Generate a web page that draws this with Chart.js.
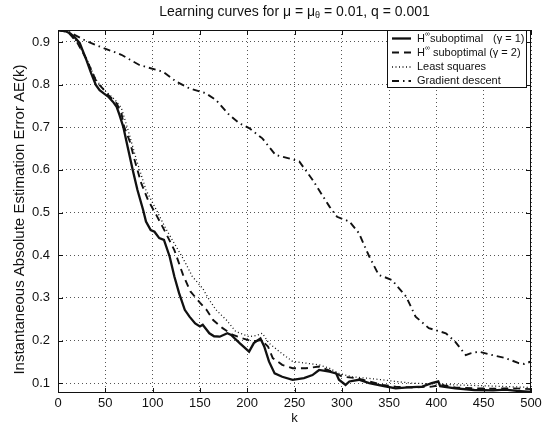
<!DOCTYPE html>
<html><head><meta charset="utf-8">
<script src="https://cdn.jsdelivr.net/npm/chart.js@4/dist/chart.umd.min.js"></script>
<style>html,body{margin:0;padding:0;background:#fff}#wrap{width:551px;height:427px}</style>
</head><body><div id="wrap"><canvas id="c" width="551" height="427"></canvas></div>
<script>
const xTicks = [0, 50, 100, 150, 200, 250, 300, 350, 400, 450, 500];
const yTicks = [0.1, 0.2, 0.3, 0.4, 0.5, 0.6, 0.7, 0.8, 0.9];

const kH1 = [0, 8, 13, 18, 23, 30, 35, 40, 44, 48, 53, 58, 62, 65, 69, 74, 79, 84, 90, 93, 98, 102, 107, 112, 118, 123, 128, 134, 139, 145, 150, 153, 160, 165, 171, 179, 183, 192, 202, 207, 214, 218, 223, 229, 237, 248, 260, 269, 276, 287, 294, 297, 304, 308, 318, 329, 343, 357, 370, 385, 395, 402, 404, 420, 440, 460, 473, 485, 497, 500];
const aeH1 = [0.928, 0.925, 0.92, 0.91, 0.897, 0.858, 0.827, 0.799, 0.787, 0.780, 0.772, 0.760, 0.748, 0.729, 0.701, 0.650, 0.600, 0.553, 0.506, 0.479, 0.459, 0.455, 0.440, 0.436, 0.397, 0.350, 0.311, 0.272, 0.256, 0.240, 0.233, 0.237, 0.217, 0.210, 0.209, 0.217, 0.213, 0.194, 0.174, 0.194, 0.205, 0.186, 0.151, 0.123, 0.115, 0.108, 0.112, 0.119, 0.131, 0.127, 0.123, 0.108, 0.096, 0.104, 0.108, 0.100, 0.094, 0.088, 0.090, 0.092, 0.100, 0.104, 0.093, 0.088, 0.084, 0.083, 0.085, 0.082, 0.080, 0.080];

const kH2 = [0, 10, 20, 30, 40, 44, 53, 62, 67, 70, 76, 81, 88, 95, 104, 114, 123, 132, 140, 150, 157, 164, 174, 185, 195, 206, 215, 222, 227, 237, 248, 262, 276, 290, 301, 315, 329, 343, 357, 375, 395, 405, 420, 440, 460, 480, 500];
const aeH2 = [0.928, 0.924, 0.900, 0.860, 0.810, 0.799, 0.776, 0.756, 0.733, 0.701, 0.666, 0.623, 0.569, 0.530, 0.494, 0.452, 0.412, 0.355, 0.315, 0.289, 0.272, 0.248, 0.229, 0.213, 0.205, 0.198, 0.201, 0.186, 0.159, 0.143, 0.135, 0.135, 0.139, 0.127, 0.115, 0.112, 0.104, 0.096, 0.092, 0.090, 0.092, 0.096, 0.090, 0.088, 0.087, 0.088, 0.086];

const kLS = [0, 10, 20, 30, 40, 50, 60, 67, 74, 83, 93, 104, 114, 125, 134, 142, 153, 160, 167, 178, 188, 202, 210, 216, 223, 234, 248, 262, 276, 287, 297, 311, 325, 343, 357, 375, 400, 420, 450, 475, 500];
const aeLS = [0.928, 0.924, 0.900, 0.862, 0.812, 0.785, 0.765, 0.745, 0.694, 0.623, 0.553, 0.506, 0.462, 0.420, 0.385, 0.350, 0.322, 0.295, 0.272, 0.248, 0.221, 0.209, 0.212, 0.217, 0.194, 0.174, 0.151, 0.147, 0.143, 0.135, 0.123, 0.115, 0.112, 0.108, 0.104, 0.100, 0.098, 0.096, 0.094, 0.092, 0.090];

const kGD = [0, 10, 18, 30, 49, 67, 86, 111, 125, 139, 156, 167, 181, 192, 202, 216, 230, 244, 255, 269, 287, 295, 308, 318, 329, 339, 353, 368, 378, 392, 410, 420, 431, 436, 445, 459, 473, 487, 493, 500];
const aeGD = [0.928, 0.925, 0.916, 0.902, 0.885, 0.870, 0.846, 0.830, 0.807, 0.791, 0.780, 0.764, 0.729, 0.709, 0.698, 0.674, 0.635, 0.627, 0.620, 0.577, 0.514, 0.490, 0.479, 0.452, 0.397, 0.354, 0.342, 0.303, 0.256, 0.229, 0.217, 0.197, 0.166, 0.170, 0.174, 0.166, 0.159, 0.147, 0.145, 0.151];

const titleText = ['Learning curves for \u03bc = \u03bc', '\u03b8', ' = 0.01, q = 0.001'];
const xLabel = 'k';
const yLabel = 'Instantaneous Absolute Estimation Error AE(k)';
const legendRows = [
  {pre: 'H', sup: '\u221e', mid: 'suboptimal', tail: '(\u03b3 = 1)'},
  {pre: 'H', sup: '\u221e', mid: 'suboptimal', tail: '(\u03b3 = 2)'},
  {pre: 'Least squares'},
  {pre: 'Gradient descent'}
];

const FONT = "'Liberation Sans', Arial, Helvetica, sans-serif";
const INK = '#111';
const styles = [
  {w: 2.3, dash: []},
  {w: 1.9, dash: [7, 5]},
  {w: 1.3, dash: [1, 2.5]},
  {w: 1.9, dash: [7, 4, 1.5, 4]}
];
const pts = (k, v) => k.map((x, i) => ({x: x, y: v[i]}));
const series = [pts(kH1, aeH1), pts(kH2, aeH2), pts(kLS, aeLS), pts(kGD, aeGD)];

const deco = {
  id: 'deco',
  afterDraw(chart) {
    const ctx = chart.ctx, a = chart.chartArea;
    const xs = chart.scales.x, ys = chart.scales.y;
    ctx.save();
    ctx.strokeStyle = INK; ctx.lineWidth = 1; ctx.setLineDash([]);
    ctx.strokeRect(a.left + 0.5, a.top + 0.5, a.right - a.left - 1, a.bottom - a.top - 1);
    ctx.beginPath();
    xTicks.forEach(v => { const p = Math.round(xs.getPixelForValue(v)) + 0.5;
      ctx.moveTo(p, a.bottom); ctx.lineTo(p, a.bottom - 5);
      ctx.moveTo(p, a.top); ctx.lineTo(p, a.top + 5); });
    yTicks.forEach(v => { const p = Math.round(ys.getPixelForValue(v)) + 0.5;
      ctx.moveTo(a.left, p); ctx.lineTo(a.left + 5, p);
      ctx.moveTo(a.right, p); ctx.lineTo(a.right - 5, p); });
    ctx.stroke();
    ctx.fillStyle = INK; ctx.textBaseline = 'middle';
    ctx.font = '14px ' + FONT;
    const w0 = ctx.measureText(titleText[0]).width;
    ctx.font = '9px ' + FONT;
    const w1 = ctx.measureText(titleText[1]).width;
    ctx.font = '14px ' + FONT;
    const w2 = ctx.measureText(titleText[2]).width;
    let tx = (a.left + a.right) / 2 - (w0 + w1 + w2) / 2;
    ctx.textAlign = 'left';
    ctx.fillText(titleText[0], tx, 12);
    ctx.font = '9px ' + FONT; ctx.fillText(titleText[1], tx + w0, 16);
    ctx.font = '14px ' + FONT; ctx.fillText(titleText[2], tx + w0 + w1, 12);
    ctx.font = '13px ' + FONT;
    ctx.textAlign = 'center';
    ctx.fillText(xLabel, (a.left + a.right) / 2, 418);
    ctx.save();
    ctx.font = '15px ' + FONT;
    ctx.translate(20, (a.top + a.bottom) / 2 + 8);
    ctx.rotate(-Math.PI / 2);
    ctx.fillText(yLabel, 0, 0);
    ctx.restore();
    const lx = 387, ly = 30, lw = 139, lh = 57;
    ctx.fillStyle = '#fff';
    ctx.fillRect(lx, ly, lw, lh);
    ctx.strokeStyle = INK; ctx.lineWidth = 1;
    ctx.strokeRect(lx + 0.5, ly + 0.5, lw, lh);
    const rowsY = [38.5, 52.5, 67, 81];
    legendRows.forEach((r, i) => {
      const y = rowsY[i];
      ctx.strokeStyle = INK; ctx.lineWidth = styles[i].w; ctx.setLineDash(styles[i].dash);
      ctx.beginPath(); ctx.moveTo(392, y); ctx.lineTo(411, y); ctx.stroke();
      ctx.setLineDash([]);
      ctx.fillStyle = INK; ctx.textAlign = 'left'; ctx.textBaseline = 'middle';
      ctx.font = '11px ' + FONT;
      ctx.fillText(r.pre, 417, y);
      if (r.sup) {
        const hw = ctx.measureText(r.pre).width;
        ctx.font = '7px ' + FONT;
        ctx.fillText(r.sup, 417 + hw, y - 4);
        const sw = ctx.measureText(r.sup).width;
        ctx.font = '11px ' + FONT;
        const mx = 417 + hw + sw + (i === 1 ? 3 : 0);
        ctx.fillText(r.mid, mx, y);
        const mw = ctx.measureText(r.mid).width;
        ctx.fillText(r.tail, i === 0 ? 493 : mx + mw + 3, y);
      }
    });
    ctx.restore();
  }
};

new Chart(document.getElementById('c'), {
  type: 'line',
  data: {
    datasets: series.map((d, i) => ({
      data: d, borderColor: INK, borderWidth: styles[i].w, borderDash: styles[i].dash,
      pointRadius: 0, tension: 0, fill: false
    }))
  },
  options: {
    responsive: false, animation: false,
    layout: {padding: {left: 0, top: 30, right: 20, bottom: 0}},
    plugins: {legend: {display: false}, title: {display: false}, tooltip: {enabled: false}},
    scales: {
      x: {
        type: 'linear', min: 0, max: 500,
        afterBuildTicks: s => { s.ticks = xTicks.map(v => ({value: v})); },
        afterFit: s => { s.height = 34; },
        ticks: {color: INK, font: {family: FONT, size: 13}, padding: 3, maxRotation: 0, autoSkip: false},
        grid: {color: '#555', lineWidth: 1, drawTicks: false},
        border: {display: false, dash: [1, 3]}
      },
      y: {
        type: 'linear', min: 0.077, max: 0.928,
        afterBuildTicks: s => { s.ticks = yTicks.map(v => ({value: v})); },
        afterFit: s => { s.width = 58; },
        ticks: {color: INK, font: {family: FONT, size: 13}, padding: 8, autoSkip: false,
          callback: v => v.toFixed(1)},
        grid: {color: '#555', lineWidth: 1, drawTicks: false},
        border: {display: false, dash: [1, 3]}
      }
    }
  },
  plugins: [deco]
});
</script></body></html>
